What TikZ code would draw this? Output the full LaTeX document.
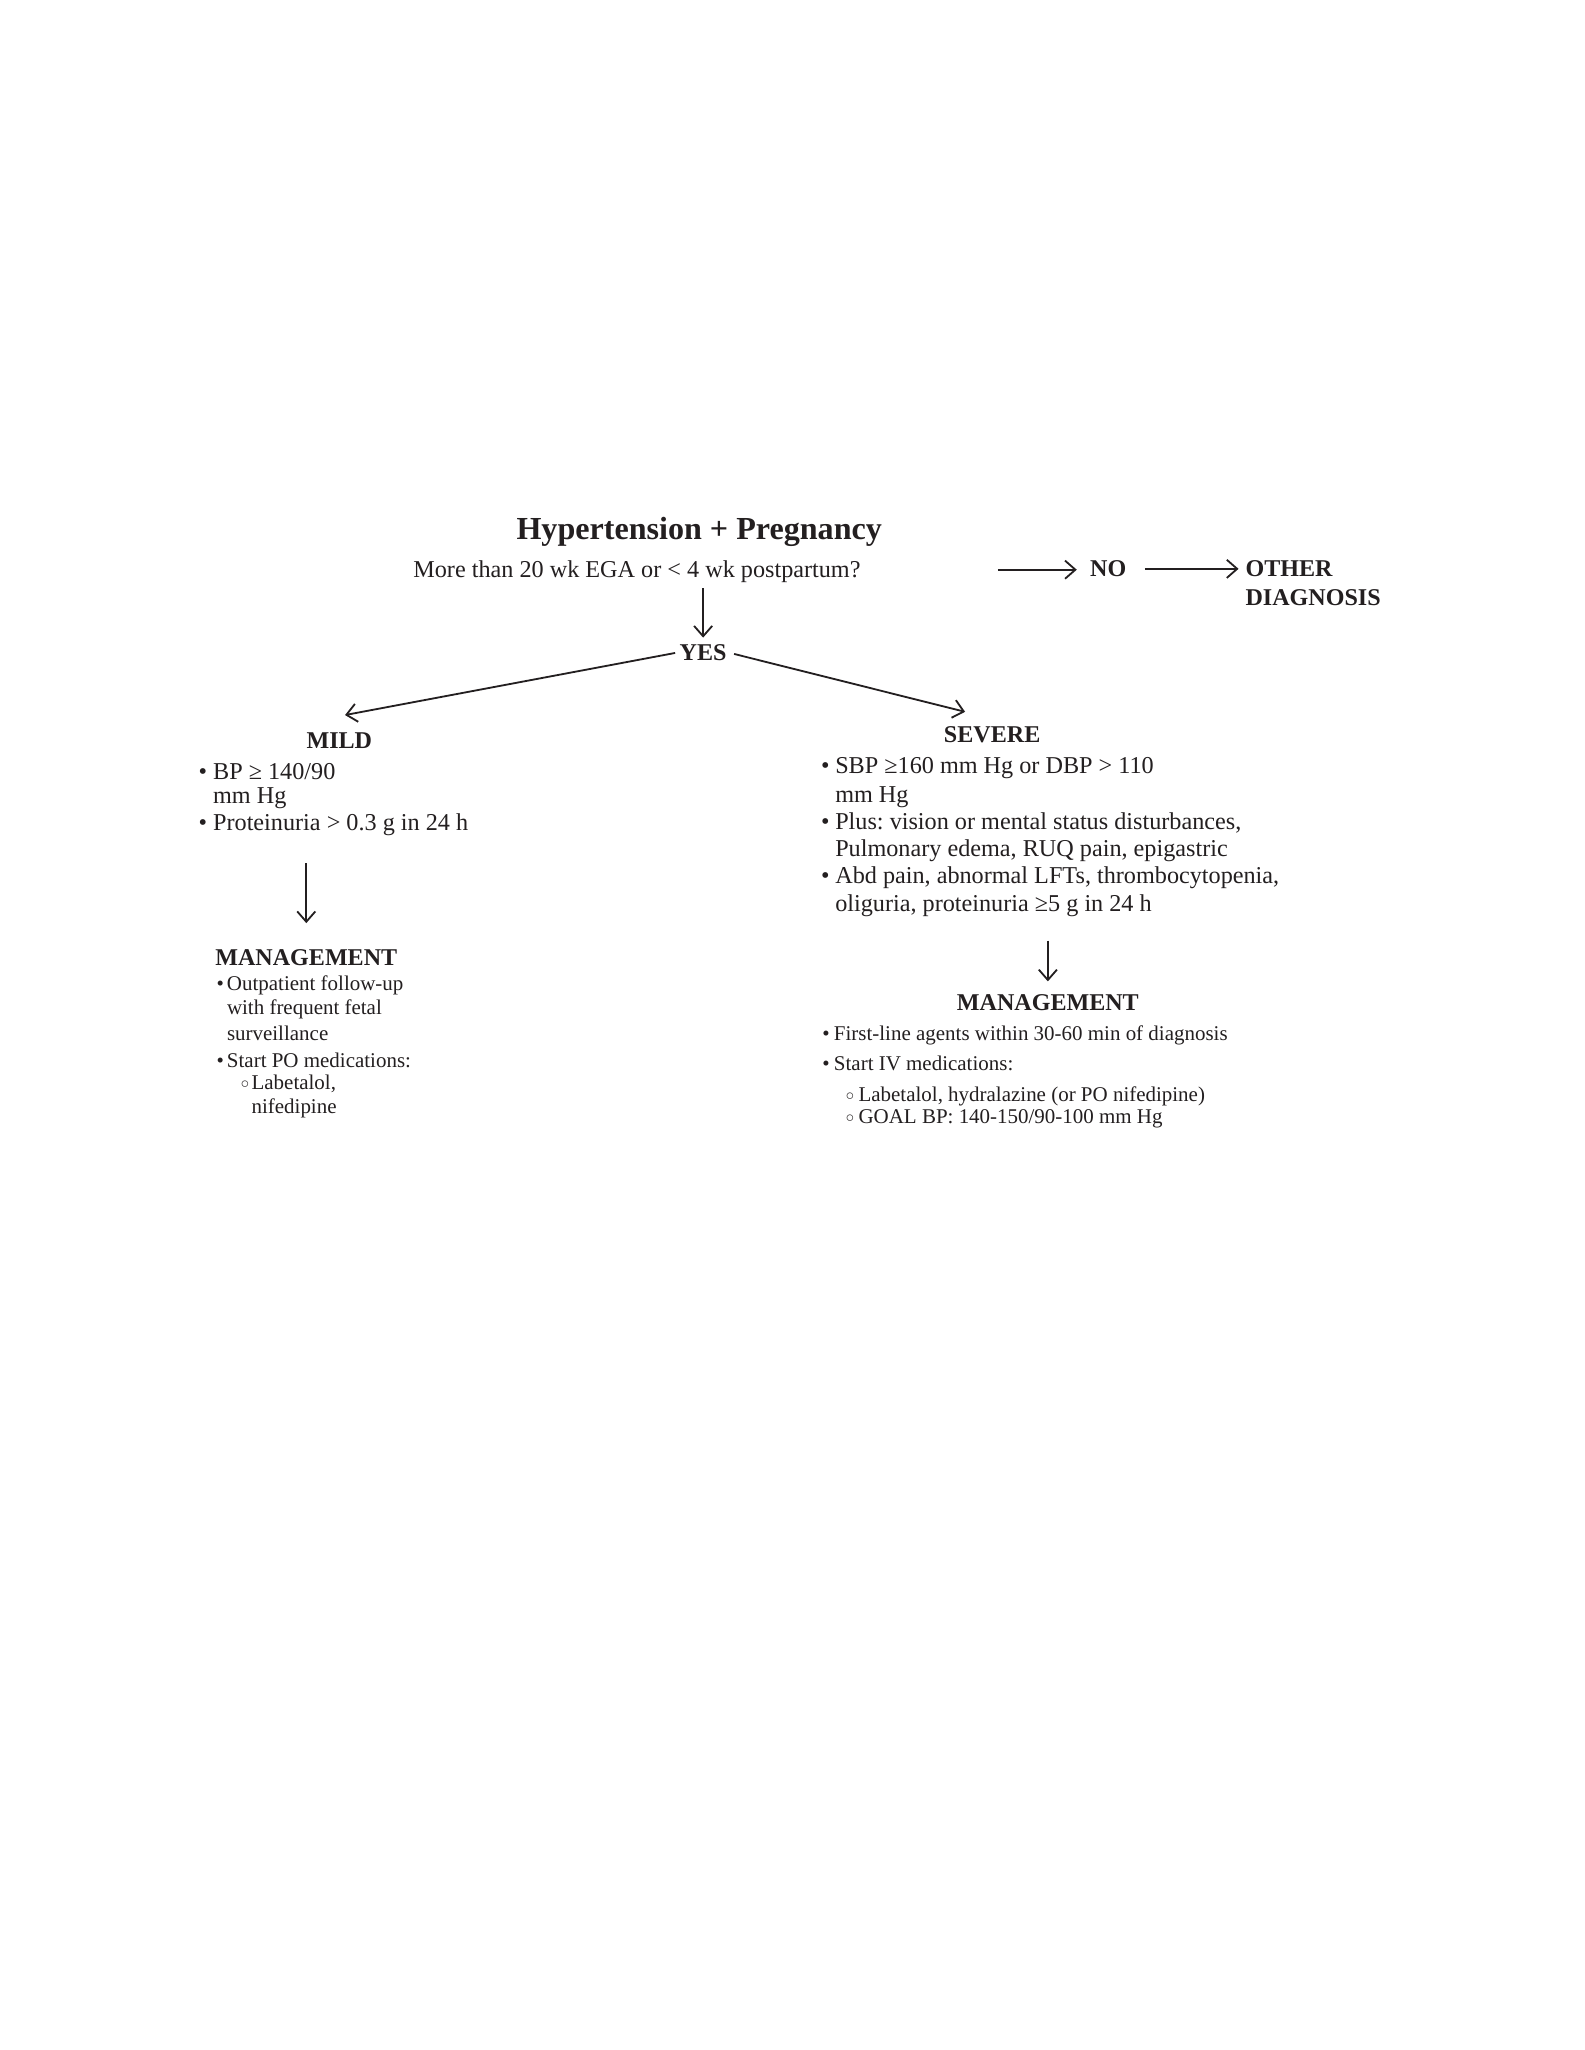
\documentclass[tikz,border=0pt]{standalone}
\usepackage{fontspec}
\setmainfont{Liberation Serif}
\usetikzlibrary{arrows.meta}
\definecolor{ink}{RGB}{35,31,32}
\newcommand{\subb}{\raisebox{0.35pt}{\fontsize{5.6}{5}\selectfont ○}}
\frenchspacing
\begin{document}
\begin{tikzpicture}[x=0.5pt,y=-0.5pt,
  every node/.style={inner sep=0pt, anchor=base west, text=ink, execute at begin node=\frenchspacing},
  ttl/.style={font=\bfseries\fontsize{12.4}{14}\selectfont},
  txt/.style={font=\fontsize{9.35}{11}\selectfont},
  hd/.style={font=\bfseries\fontsize{9.3}{11}\selectfont},
  sm/.style={font=\fontsize{8.1}{10}\selectfont},
  arr/.style={draw=ink, line width=0.7pt, -{Straight Barb[length=4pt,width=7pt,line width=0.7pt]}}]
\useasboundingbox (0,0) rectangle (1224,1584);
\fill[white] (0,0) rectangle (1224,1584);
% top
\node[ttl] (title) at (398.7,416.5) {Hypertension + Pregnancy};
\node[txt] (q) at (319,446.5) {More than 20 wk EGA or < 4 wk postpartum?};
\node[hd] (yes) at (524.8,510) {YES};
\node[hd] (no) at (842,445.6) {NO};
\node[hd] (oth1) at (962,445.6) {OTHER};
\node[hd] (oth2) at (962,467.5) {DIAGNOSIS};
% mild
\node[hd] (mild) at (236.5,578) {MILD};
\node[txt] (m1) at (153,602) {\makebox[5.65pt][l]{•}BP ≥ 140/90};
\node[txt] (m2) at (164.3,621) {mm Hg};
\node[txt] (m3) at (153,641.4) {\makebox[5.65pt][l]{•}Proteinuria > 0.3 g in 24 h};
\node[hd] (mgL) at (166,745.7) {MANAGEMENT};
\node[sm] (l1) at (167,765) {\makebox[4pt][l]{•}Outpatient follow-up};
\node[sm] (l2) at (175,784) {with frequent fetal};
\node[sm] (l3) at (175,803.7) {surveillance};
\node[sm] (l4) at (167,825) {\makebox[4pt][l]{•}Start PO medications:};
\node[sm] (l5) at (185.5,841.6) {\makebox[4.25pt][l]{\subb}Labetalol,};
\node[sm] (l6) at (194,860) {nifedipine};
% severe
\node[hd] (sev) at (729,574) {SEVERE};
\node[txt] (s1) at (634,597.5) {\makebox[5.5pt][l]{•}SBP ≥160 mm Hg or DBP > 110};
\node[txt] (s2) at (645,620) {mm Hg};
\node[txt] (s3) at (634,641) {\makebox[5.5pt][l]{•}Plus: vision or mental status disturbances,};
\node[txt] (s4) at (645,662) {Pulmonary edema, RUQ pain, epigastric};
\node[txt] (s5) at (634,683) {\makebox[5.5pt][l]{•}Abd pain, abnormal LFTs, thrombocytopenia,};
\node[txt] (s6) at (645,704.6) {oliguria, proteinuria ≥5 g in 24 h};
\node[hd] (mgR) at (739,781) {MANAGEMENT};
\node[sm] (r1) at (635,804) {\makebox[4.5pt][l]{•}First-line agents within 30-60 min of diagnosis};
\node[sm] (r2) at (635,827) {\makebox[4.5pt][l]{•}Start IV medications:};
\node[sm] (r3) at (653,851) {\makebox[5pt][l]{\subb}Labetalol, hydralazine (or PO nifedipine)};
\node[sm] (r4) at (653,868) {\makebox[5pt][l]{\subb}GOAL BP: 140-150/90-100 mm Hg};
% connectors
\coordinate (nostart) at (771,440.2);
\coordinate (mildtip) at (266.6,552.5);
\coordinate (sevtip) at (745.7,550);
\draw[arr, shorten <=1.8pt, shorten >=2.3pt] (q.south -| yes.north) -- (yes.north);
\draw[arr, shorten >=5pt] (nostart) -- (nostart -| no.west);
\draw[arr, shorten <=7pt, shorten >=2.5pt] (no.east) -- (oth1.west);
\draw[arr, shorten <=1.6pt] (yes.west) -- (mildtip);
\draw[arr, shorten <=2.8pt] (yes.east) -- (sevtip);
\draw[arr, shorten <=10.5pt, shorten >=9.85pt] (mgL.north |- m3.south) -- (mgL.north);
\draw[arr, shorten <=8.85pt, shorten >=5pt] (mgR.north |- s6.south) -- (mgR.north);
\end{tikzpicture}
\end{document}
